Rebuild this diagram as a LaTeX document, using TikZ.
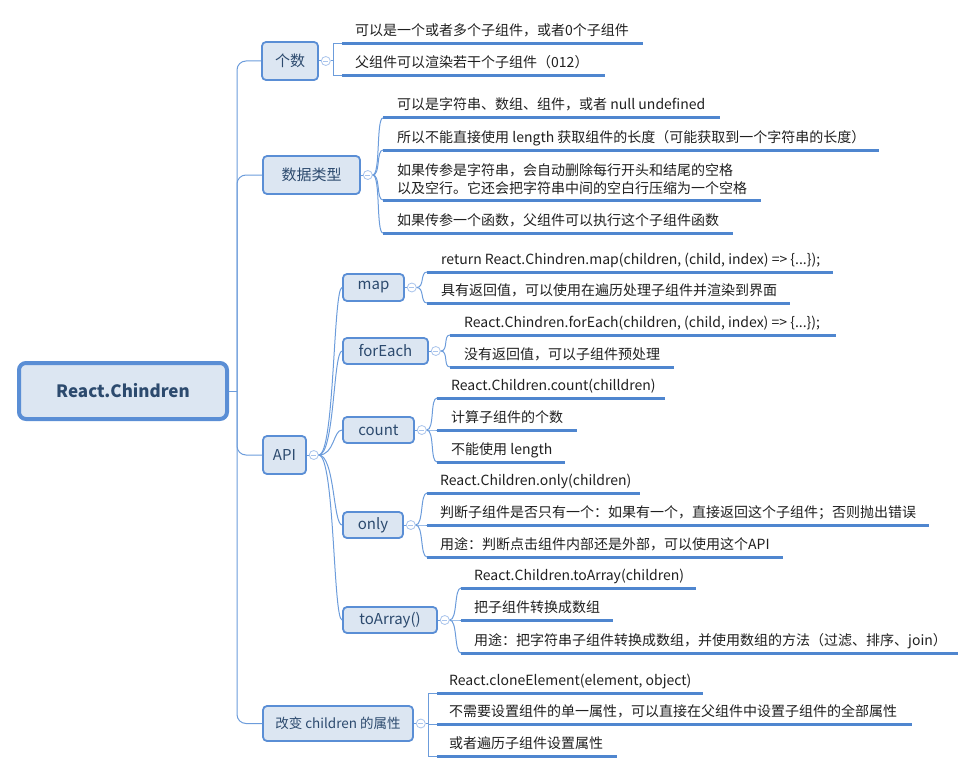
\documentclass[tikz,border=0pt]{standalone}
\usepackage{fontspec}
\setmainfont{Noto Sans CJK SC}
\usetikzlibrary{positioning}

\definecolor{boxfill}{HTML}{DCE6F2}
\definecolor{boxline}{HTML}{5A8ED5}
\definecolor{boxtext}{HTML}{2C4A6E}
\definecolor{ulinecol}{HTML}{4F86CF}
\definecolor{linkcol}{HTML}{6C9CDB}
\definecolor{knobcol}{HTML}{A9C4EC}

\tikzset{
  rootbox/.style={draw=boxline, line width=4pt, fill=boxfill, rounded corners=7pt,
    minimum width=208pt, minimum height=56pt, text=boxtext,
    font=\fontsize{17}{20}\selectfont\bfseries},
  topic/.style={draw=boxline, line width=1.8pt, fill=boxfill, rounded corners=4pt,
    inner sep=0pt, text=boxtext, font=\fontsize{15}{18}\selectfont},
  leaf/.style={anchor=base west, inner sep=0pt, text=black!88,
    font=\fontsize{14}{18}\selectfont},
  uline/.style={draw=ulinecol, line width=3pt},
  link/.style={draw=linkcol, line width=1pt},
  knob/.style={circle, draw=knobcol, fill=white, line width=.8pt, minimum size=9pt, inner sep=0pt,
    path picture={\draw[knobcol, line width=.8pt]
      ([xshift=-2.4pt]path picture bounding box.center) -- ([xshift=2.4pt]path picture bounding box.center);}},
}

\begin{document}
\begin{tikzpicture}[x=1pt,y=-1pt]
  \useasboundingbox (0,0) rectangle (976,773);

  % root and main topics
  \node[rootbox] (root) at (123,391) {React.Chindren};
  \coordinate (hub) at (237,391);
  \node[topic, minimum width=56pt, minimum height=38pt] (num) at (290,61) {个数};
  \node[topic, minimum width=97pt, minimum height=38pt] (dtype) at (311.5,175) {数据类型};
  \node[topic, minimum width=43pt, minimum height=38pt] (api) at (284.5,455) {API};
  \node[topic, minimum width=150pt, minimum height=35pt, font=\fontsize{13.5}{16}\selectfont] (clone) at (338,723.5) {改变 children 的属性};
  \draw[link] (root.east) -- (hub);
  \foreach \t in {num,dtype,api,clone}{
    \draw[link, rounded corners=9pt] (hub) |- (\t.west);
    \node[knob, right=2pt of \t] (\t-k) {};
    \draw[link] (\t.east) -- (\t-k.west);
  }

  % API sub topics
  \node[topic, minimum width=61pt, minimum height=27pt] (map) at (373.5,287.5) {map};
  \node[topic, minimum width=85pt, minimum height=26pt] (each) at (385.5,351) {forEach};
  \node[topic, minimum width=71pt, minimum height=26pt] (count) at (378.5,430) {count};
  \node[topic, minimum width=60pt, minimum height=26pt] (only) at (373,525) {only};
  \node[topic, minimum width=94pt, minimum height=26pt] (toarr) at (390,620) {toArray()};
  \foreach \t in {map,each,count,only,toarr}{
    \draw[link] (api-k.east) .. controls +(16,0) and +(-9,0) .. (\t.west);
    \node[knob, right=2pt of \t] (\t-k) {};
    \draw[link] (\t.east) -- (\t-k.west);
  }

  % leaves: square brackets
  \foreach \n/\y/\e in {n1/44/643, n2/76/605}{
    \coordinate (\n) at (342,\y);
    \draw[link] (num-k.east) -- ++(3,0) |- (\n);
    \draw[uline] (\n) -- (\e,\y);
  }
  \foreach \n/\y/\e in {g1/693/703, g2/724/912, g3/756/617}{
    \coordinate (\n) at (437,\y);
    \draw[link] (clone-k.east) -- ++(3,0) |- (\n);
    \draw[uline] (\n) -- (\e,\y);
  }

  % leaves: curved
  \foreach \p/\x/\n/\y/\e in {dtype/383/d1/118/720, dtype/383/d2/150/879, dtype/383/d3/200/761, dtype/383/d4/233/733,
      map/427/m1/272/833, map/427/m2/303/790,
      each/450/e1/335/836, each/450/e2/367/674,
      count/437/c1/398/665, count/437/c2/430/577, count/437/c3/462/565,
      only/427/o1/493/640, only/427/o2/525/929, only/427/o3/557/783,
      toarr/461/t1/588/696, toarr/461/t2/620/613, toarr/461/t3/653/958}{
    \coordinate (\n) at (\x,\y);
    \draw[link] (\p-k.east) .. controls +(8,0) and +(-7,0) .. (\n);
    \draw[uline] (\n) -- (\e,\y);
  }

  % leaf texts
  \node[leaf] (n1t) at ([shift={(13,-8)}]n1) {可以是一个或者多个子组件，或者0个子组件};
  \node[leaf] (n2t) at ([shift={(13,-8)}]n2) {父组件可以渲染若干个子组件（012）};
  \node[leaf] (d1t) at ([shift={(14,-8)}]d1) {可以是字符串、数组、组件，或者 null undefined};
  \node[leaf] (d2t) at ([shift={(14,-8)}]d2) {所以不能直接使用 length 获取组件的长度（可能获取到一个字符串的长度）};
  \node[leaf, anchor=south west, align=left] (d3t) at ([shift={(14,-5)}]d3)
    {如果传参是字符串，会自动删除每行开头和结尾的空格\\以及空行。它还会把字符串中间的空白行压缩为一个空格};
  \node[leaf] (d4t) at ([shift={(14,-8)}]d4) {如果传参一个函数，父组件可以执行这个子组件函数};
  \node[leaf] (m1t) at ([shift={(14,-8)}]m1) {return React.Chindren.map(children, (child, index) => \{...\});};
  \node[leaf] (m2t) at ([shift={(14,-8)}]m2) {具有返回值，可以使用在遍历处理子组件并渲染到界面};
  \node[leaf] (e1t) at ([shift={(14,-8)}]e1) {React.Chindren.forEach(children, (child, index) => \{...\});};
  \node[leaf] (e2t) at ([shift={(14,-8)}]e2) {没有返回值，可以子组件预处理};
  \node[leaf] (c1t) at ([shift={(14,-8)}]c1) {React.Children.count(chilldren)};
  \node[leaf] (c2t) at ([shift={(14,-8)}]c2) {计算子组件的个数};
  \node[leaf] (c3t) at ([shift={(14,-8)}]c3) {不能使用 length};
  \node[leaf] (o1t) at ([shift={(13,-8)}]o1) {React.Children.only(children)};
  \node[leaf] (o2t) at ([shift={(13,-8)}]o2) {判断子组件是否只有一个：如果有一个，直接返回这个子组件；否则抛出错误};
  \node[leaf] (o3t) at ([shift={(13,-8)}]o3) {用途：判断点击组件内部还是外部，可以使用这个API};
  \node[leaf] (t1t) at ([shift={(13,-8)}]t1) {React.Children.toArray(children)};
  \node[leaf] (t2t) at ([shift={(13,-8)}]t2) {把子组件转换成数组};
  \node[leaf] (t3t) at ([shift={(13,-8)}]t3) {用途：把字符串子组件转换成数组，并使用数组的方法（过滤、排序、join）};
  \node[leaf] (g1t) at ([shift={(12,-8)}]g1) {React.cloneElement(element, object)};
  \node[leaf] (g2t) at ([shift={(12,-8)}]g2) {不需要设置组件的单一属性，可以直接在父组件中设置子组件的全部属性};
  \node[leaf] (g3t) at ([shift={(12,-8)}]g3) {或者遍历子组件设置属性};
\end{tikzpicture}
\end{document}
